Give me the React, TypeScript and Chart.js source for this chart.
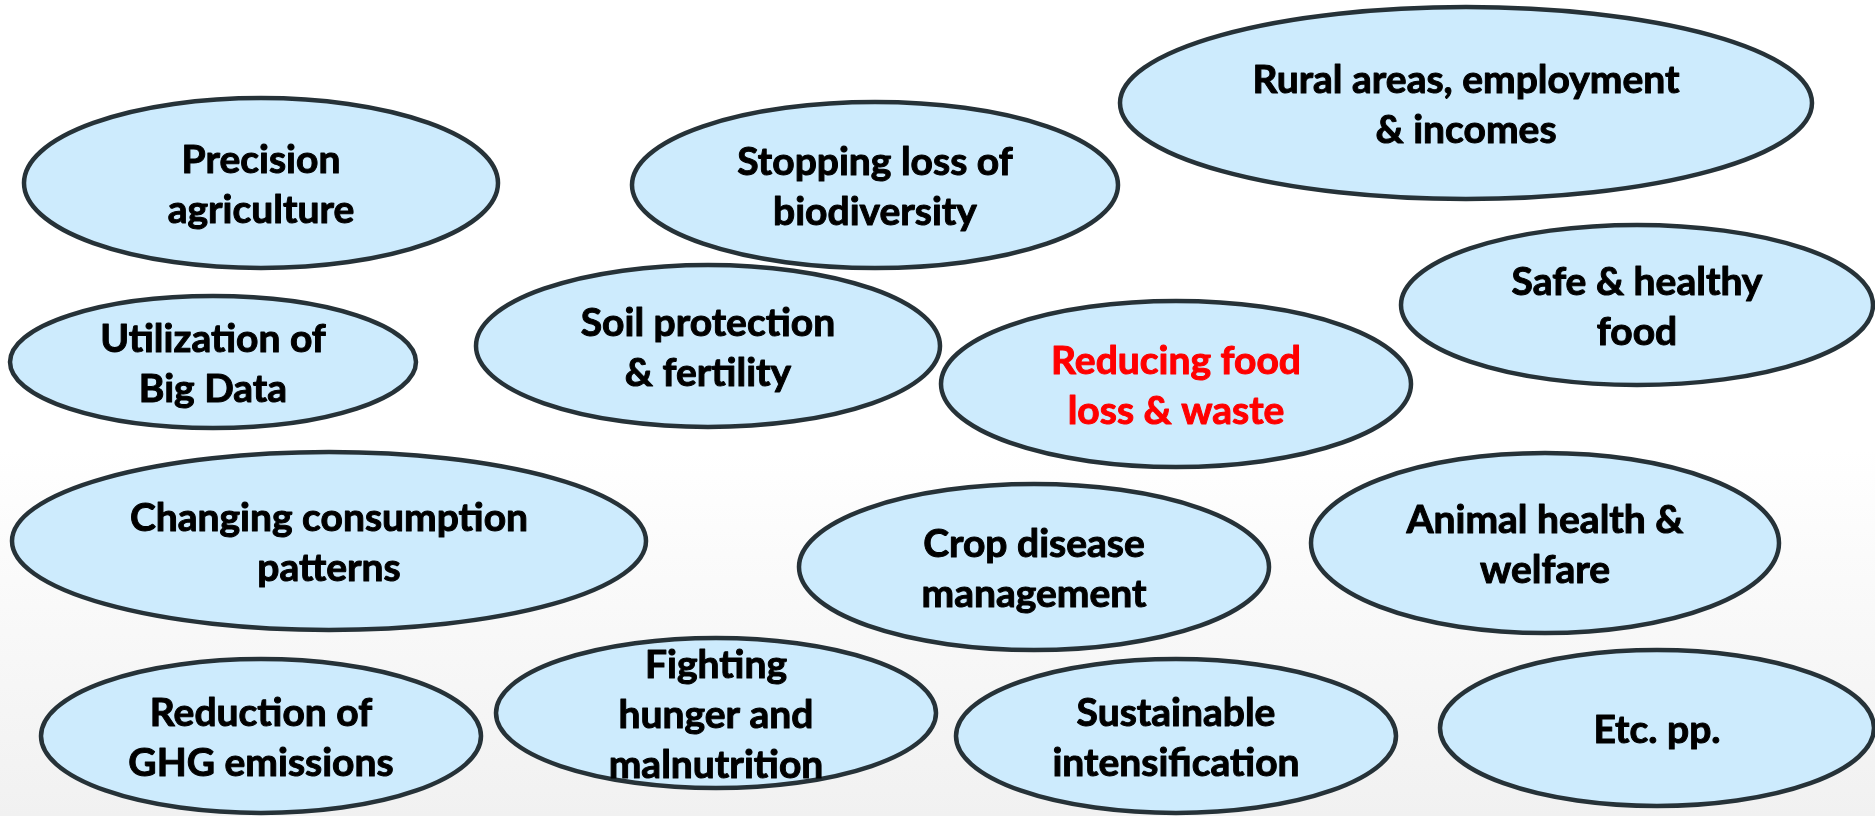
import React, { useEffect, useRef } from "react";
import { Chart, registerables } from "chart.js";

Chart.register(...registerables);

const TOPICS: string[] = [
  "Precision\nagriculture",
  "Stopping loss of\nbiodiversity",
  "Rural areas, employment\n& incomes",
  "Utilization of\nBig Data",
  "Soil protection\n& fertility",
  "Reducing food\nloss & waste",
  "Safe & healthy\nfood",
  "Changing consumption\npatterns",
  "Crop disease\nmanagement",
  "Animal health &\nwelfare",
  "Reduction of\nGHG emissions",
  "Fighting\nhunger and\nmalnutrition",
  "Sustainable\nintensification",
  "Etc. pp.",
];
const CENTER_X: number[] = [261, 875, 1466, 213, 708, 1176, 1637, 329, 1034, 1545, 261, 716, 1176, 1657];
const CENTER_Y: number[] = [183, 185, 103, 362, 346, 384, 305, 541, 567, 543, 736, 713, 736, 728];
const RADIUS_X: number[] = [237, 243, 346, 203, 232, 235, 236, 317, 235, 234, 220, 220, 220, 217];
const RADIUS_Y: number[] = [85, 83, 96, 66, 81, 83, 80, 89, 83, 90, 77, 75, 77, 78];
const HIGHLIGHT_INDEX = 5;

const W = 1875;
const H = 816;

export default function App() {
  const ref = useRef<HTMLCanvasElement | null>(null);

  useEffect(() => {
    document.body.style.margin = "0";
    const canvas = ref.current!;
    const bgPlugin = {
      id: "bg",
      beforeDraw(chart: any) {
        const ctx = chart.ctx;
        const g = ctx.createLinearGradient(0, 0, 0, chart.height);
        g.addColorStop(0, "#ffffff");
        g.addColorStop(0.55, "#ffffff");
        g.addColorStop(1, "#f1f1f1");
        ctx.save();
        ctx.fillStyle = g;
        ctx.fillRect(0, 0, chart.width, chart.height);
        ctx.restore();
      },
    };
    const ellipsePlugin = {
      id: "ellipses",
      afterDatasetsDraw(chart: any) {
        const ctx = chart.ctx as CanvasRenderingContext2D;
        const xs = chart.scales.x;
        const ys = chart.scales.y;
        ctx.save();
        TOPICS.forEach((_, i) => {
          const cx = xs.getPixelForValue(CENTER_X[i]);
          const cy = ys.getPixelForValue(CENTER_Y[i]);
          const rx = Math.abs(xs.getPixelForValue(CENTER_X[i] + RADIUS_X[i]) - cx);
          const ry = Math.abs(ys.getPixelForValue(CENTER_Y[i] + RADIUS_Y[i]) - cy);
          ctx.beginPath();
          ctx.ellipse(cx, cy, rx, ry, 0, 0, Math.PI * 2);
          ctx.fillStyle = "#cdebfd";
          ctx.fill();
          ctx.lineWidth = 4.5;
          ctx.strokeStyle = "#263238";
          ctx.stroke();
        });
        ctx.font = "bold 39px Lato";
        ctx.textAlign = "center";
        ctx.textBaseline = "middle";
        ctx.lineJoin = "round";
        const lh = 50;
        TOPICS.forEach((label, i) => {
          const cx = xs.getPixelForValue(CENTER_X[i]);
          const cy = ys.getPixelForValue(CENTER_Y[i]);
          const lines = label.split("\n");
          const color = i === HIGHLIGHT_INDEX ? "#ff0000" : "#000000";
          ctx.fillStyle = color;
          ctx.strokeStyle = color;
          ctx.lineWidth = 1;
          lines.forEach((ln, k) => {
            const y = cy + (k - (lines.length - 1) / 2) * lh + 2;
            ctx.fillText(ln, cx, y);
            ctx.strokeText(ln, cx, y);
          });
        });
        ctx.restore();
      },
    };
    const chart = new Chart(canvas, {
      type: "scatter",
      data: {
        datasets: [
          {
            data: CENTER_X.map((x, i) => ({ x, y: CENTER_Y[i] })),
            pointRadius: 0,
            pointHoverRadius: 0,
          },
        ],
      },
      options: {
        animation: false,
        responsive: false,
        devicePixelRatio: 1,
        layout: { padding: 0 },
        plugins: { legend: { display: false }, tooltip: { enabled: false } },
        scales: {
          x: { type: "linear", min: 0, max: W, display: false },
          y: { type: "linear", min: 0, max: H, reverse: true, display: false },
        },
      },
      plugins: [bgPlugin, ellipsePlugin],
    } as any);
    return () => chart.destroy();
  }, []);

  return (
    <div style={{ width: W, height: H }}>
      <canvas ref={ref} width={W} height={H} style={{ display: "block" }} />
    </div>
  );
}
